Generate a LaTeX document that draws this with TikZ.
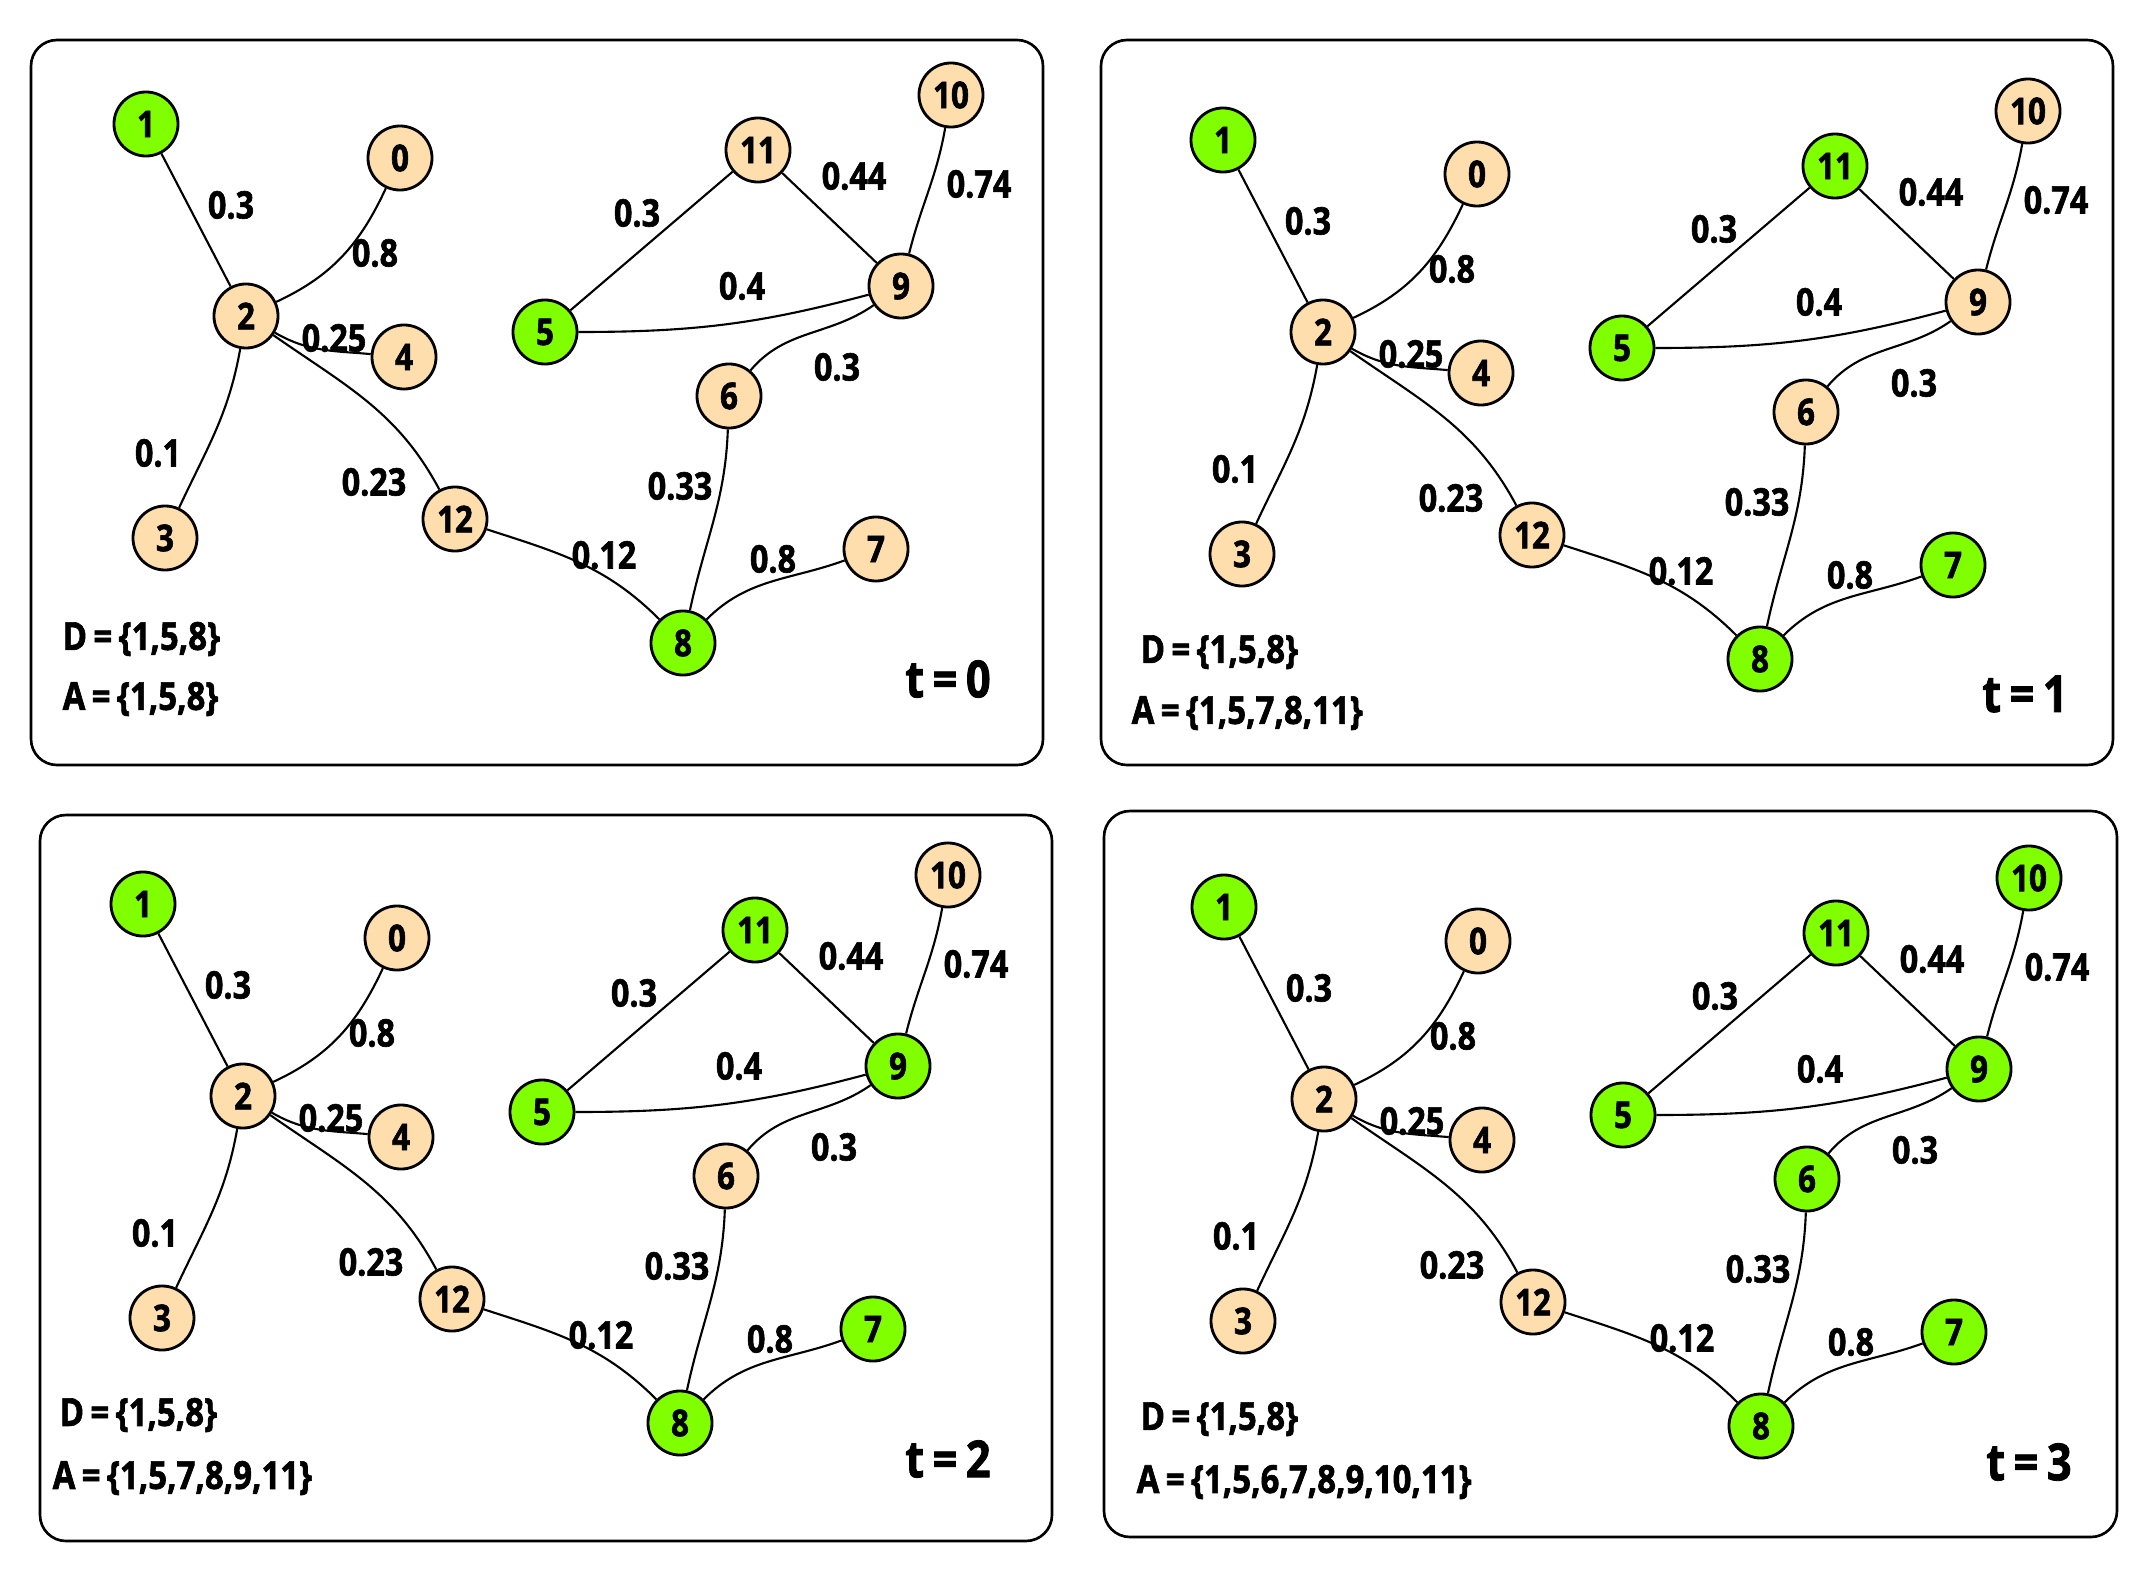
\documentclass[tikz,border=0pt]{standalone}
\usepackage{fontspec}
\setmainfont{Open Sans}[FakeStretch=0.85,BoldFeatures={FakeBold=1.6}]
\definecolor{grn}{RGB}{127,255,0}
\definecolor{pch}{RGB}{255,222,173}
\begin{document}
\begin{tikzpicture}[x=0.01cm,y=-0.01cm,
  vtx/.style={circle,draw,line width=0.8pt,minimum size=0.64cm,inner sep=0pt,font=\bfseries\fontsize{10.5}{11}\selectfont},
  gv/.style={fill=grn}, pv/.style={fill=pch},
  edge/.style={line width=0.6pt},
  wl/.style={font=\bfseries\fontsize{10.8}{12}\selectfont,inner sep=0pt},
  setlbl/.style={font=\bfseries\fontsize{11}{12}\selectfont,anchor=west,inner sep=0pt},
  tlbl/.style={font=\bfseries\fontsize{14.5}{16}\selectfont,inner sep=0pt},
  panelbox/.style={draw,line width=0.75pt,rounded corners=0.26cm}]
\useasboundingbox (0,0) rectangle (2154,1582);
\newcommand\graphpanel[1]{%
  \node[vtx,c1] (#1n1) at (146,124) {1};
  \node[vtx,c0] (#1n0) at (400,158) {0};
  \node[vtx,c2] (#1n2) at (246,316) {2};
  \node[vtx,c4] (#1n4) at (404,357) {4};
  \node[vtx,c3] (#1n3) at (165,538) {3};
  \node[vtx,c12] (#1n12) at (455,519) {12};
  \node[vtx,c8] (#1n8) at (683,643) {8};
  \node[vtx,c7] (#1n7) at (876,549) {7};
  \node[vtx,c6] (#1n6) at (729,396) {6};
  \node[vtx,c9] (#1n9) at (901,286) {9};
  \node[vtx,c5] (#1n5) at (545,332) {5};
  \node[vtx,c11] (#1n11) at (758,150) {11};
  \node[vtx,c10] (#1n10) at (951,95) {10};
  \draw[edge] (#1n1) -- (#1n2);
  \draw[edge] (#1n2) to[out=25,in=245] (#1n0);
  \draw[edge] (#1n2) to[out=-30,in=175] (#1n4);
  \draw[edge] (#1n2) to[out=-100,in=65] (#1n3);
  \draw[edge] (#1n2) to[out=-35,in=118] (#1n12);
  \draw[edge] (#1n12) to[out=-18,in=135] (#1n8);
  \draw[edge] (#1n6) to[out=-92,in=78] (#1n8);
  \draw[edge] (#1n8) to[out=45,in=200] (#1n7);
  \draw[edge] (#1n9) to[out=215,in=50] (#1n6);
  \draw[edge] (#1n5) to[out=0,in=195] (#1n9);
  \draw[edge] (#1n5) -- (#1n11);
  \draw[edge] (#1n11) -- (#1n9);
  \draw[edge] (#1n10) to[out=-100,in=76] (#1n9);
  \node[wl] (#1w12) at (231,205) {0.3};
  \node[wl] (#1w20) at (375,253) {0.8};
  \node[wl] (#1w24) at (334,338) {0.25};
  \node[wl] (#1w23) at (158,453) {0.1};
  \node[wl] (#1w212) at (374,482) {0.23};
  \node[wl] (#1w128) at (604,555) {0.12};
  \node[wl] (#1w68) at (680,486) {0.33};
  \node[wl] (#1w87) at (773,559) {0.8};
  \node[wl] (#1w96) at (837,367) {0.3};
  \node[wl] (#1w59) at (742,286) {0.4};
  \node[wl] (#1w511) at (637,213) {0.3};
  \node[wl] (#1w119) at (854,176) {0.44};
  \node[wl] (#1w109) at (979,184) {0.74};
}
% ---------- panel t=0 ----------
\draw[panelbox] (31,40) rectangle (1043,765);
\tikzset{c0/.style=pv,c1/.style=gv,c2/.style=pv,c3/.style=pv,c4/.style=pv,c5/.style=gv,c6/.style=pv,
  c7/.style=pv,c8/.style=gv,c9/.style=pv,c10/.style=pv,c11/.style=pv,c12/.style=pv}
\begin{scope}\graphpanel{a}\end{scope}
\node[setlbl] (aD) at (62,639) {D\,=\,\{1,5,8\}};
\node[setlbl] (aA) at (62,699) {A\,=\,\{1,5,8\}};
\node[tlbl] (aT) at (948,679) {t\,=\,0};
% ---------- panel t=1 ----------
\draw[panelbox] (1101,40) rectangle (2113,765);
\tikzset{c7/.style=gv,c11/.style=gv}
\begin{scope}[shift={(1077,16)}]\graphpanel{b}\end{scope}
\node[setlbl] (bD) at (1140,652) {D\,=\,\{1,5,8\}};
\node[setlbl] (bA) at (1131,713) {A\,=\,\{1,5,7,8,11\}};
\node[tlbl] (bT) at (2025,694) {t\,=\,1};
% ---------- panel t=2 ----------
\draw[panelbox] (40,815) rectangle (1052,1541);
\tikzset{c9/.style=gv}
\begin{scope}[shift={(-3,780)}]\graphpanel{c}\end{scope}
\node[setlbl] (cD) at (59,1415) {D\,=\,\{1,5,8\}};
\node[setlbl] (cA) at (52,1478) {A\,=\,\{1,5,7,8,9,11\}};
\node[tlbl] (cT) at (948,1459) {t\,=\,2};
% ---------- panel t=3 ----------
\draw[panelbox] (1104,811) rectangle (2117,1537);
\tikzset{c6/.style=gv,c10/.style=gv}
\begin{scope}[shift={(1078,783)}]\graphpanel{d}\end{scope}
\node[setlbl] (dD) at (1140,1419) {D\,=\,\{1,5,8\}};
\node[setlbl] (dA) at (1136,1482) {A\,=\,\{1,5,6,7,8,9,10,11\}};
\node[tlbl] (dT) at (2029,1462) {t\,=\,3};
\end{tikzpicture}
\end{document}
